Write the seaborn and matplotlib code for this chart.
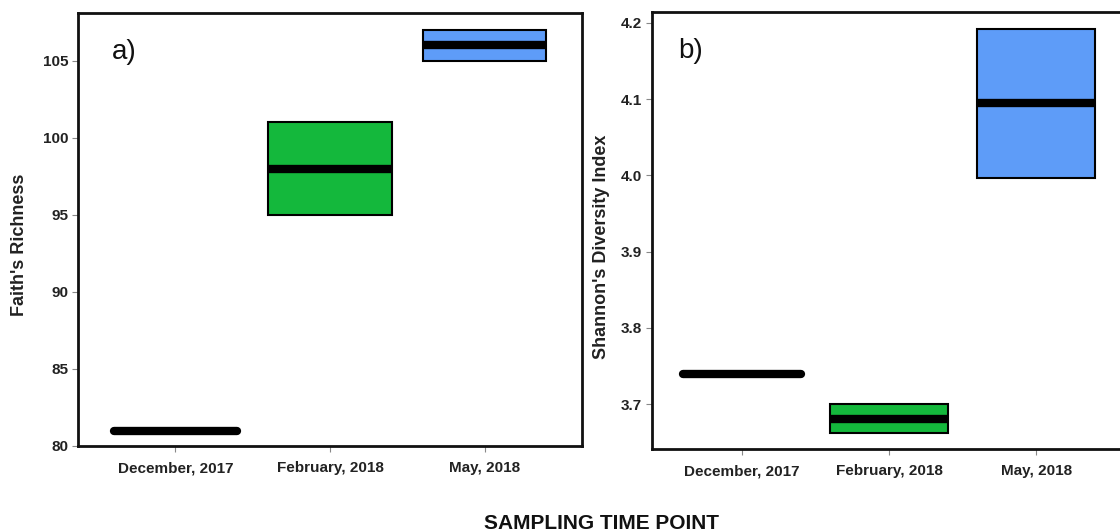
import matplotlib
matplotlib.use("Agg")
import matplotlib.pyplot as plt
import seaborn as sns
import pandas as pd

# ---- data ----
categories = ["December, 2017", "February, 2018", "May, 2018"]
faith_q1 = [81.0, 95.0, 105.0]
faith_med = [81.0, 98.0, 106.0]
faith_q3 = [81.0, 101.0, 107.0]
shannon_q1 = [3.739, 3.662, 3.996]
shannon_med = [3.739, 3.681, 4.095]
shannon_q3 = [3.739, 3.700, 4.192]
faith_ticks = [80, 85, 90, 95, 100, 105]
shannon_ticks = [3.7, 3.8, 3.9, 4.0, 4.1, 4.2]
colors = ["#000000", "#14b83c", "#5e9cf8"]


def to_frame(q1, med, q3):
    rows = []
    for c, a, m, b in zip(categories, q1, med, q3):
        for v in (a, a, m, b, b):
            rows.append({"time": c, "value": v})
    return pd.DataFrame(rows)


sns.set_theme(style="white")
plt.rcParams["font.family"] = ["Liberation Sans", "DejaVu Sans"]

fig = plt.figure(figsize=(11.2, 5.31), dpi=100)
ax1 = fig.add_axes([78 / 1120, 1 - 446 / 531, 504 / 1120, 433 / 531])
ax2 = fig.add_axes([652 / 1120, 1 - 449 / 531, 474 / 1120, 437 / 531])

pal = dict(zip(categories, colors))

for ax, (q1, med, q3), ticks, ylim, xlim, ylabel, tag, tagx, labx, laby in [
    (ax1, (faith_q1, faith_med, faith_q3), faith_ticks, (80, 108.1), (-0.63, 2.63),
     "Faith's Richness", "a)", 0.067, -0.10, 0.465),
    (ax2, (shannon_q1, shannon_med, shannon_q3), shannon_ticks, (3.641, 4.2144), (-0.61, 2.61),
     "Shannon's Diversity Index", "b)", 0.055, -0.088, 0.462),
]:
    df = to_frame(q1, med, q3)
    n_before = len(ax.lines)
    sns.boxplot(data=df, x="time", y="value", hue="time", palette=pal, order=categories,
                hue_order=categories, saturation=1, width=0.8, linewidth=1.5,
                linecolor="black", showcaps=False, showfliers=False, legend=False,
                medianprops=dict(linewidth=6, color="black"),
                ax=ax)
    medians = [ln for ln in ax.lines[n_before:] if ln.get_linewidth() >= 5]
    for i, ln in enumerate(medians):
        ln.set_solid_capstyle("round" if q1[i] == q3[i] else "butt")
    ax.set_xlim(*xlim)
    ax.set_ylim(*ylim)
    ax.set_yticks(ticks)
    ax.set_yticklabels([f"{t:g}" if isinstance(t, int) else f"{t:.1f}" for t in ticks])
    ax.set_xlabel("")
    ax.set_ylabel(ylabel, fontsize=13, fontweight="bold", color="#222222")
    ax.yaxis.set_label_coords(labx, laby)
    ax.tick_params(axis="both", which="both", direction="out", length=4, width=0.8,
                   color="#888888", pad=3, left=True, bottom=True, labelcolor="#222222")
    ax.tick_params(axis="x", pad=7)
    for lab in ax.get_xticklabels() + ax.get_yticklabels():
        lab.set_fontweight("bold")
        lab.set_fontsize(11)
    for s in ax.spines.values():
        s.set_visible(True)
        s.set_color("#111111")
        s.set_linewidth(2.0)
    ax.text(tagx, 0.91, tag, transform=ax.transAxes, fontsize=20, va="center", ha="left",
            color="#111111")

fig.text(602 / 1120, 0.004, "SAMPLING TIME POINT", ha="center", va="baseline",
         fontsize=15, fontweight="bold", color="#111111")

fig.savefig("out.png", dpi=100)
